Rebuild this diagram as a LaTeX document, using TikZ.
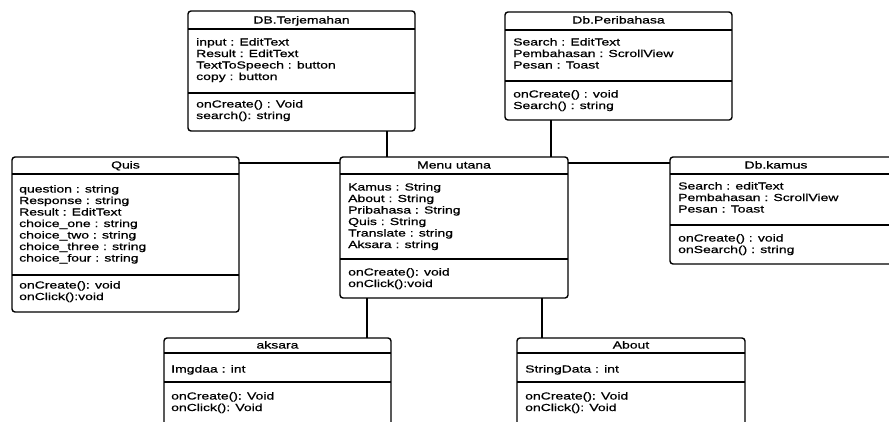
\documentclass[tikz,border=0pt]{standalone}
\usepackage{fontspec}
\setmainfont{Liberation Sans}[FakeStretch=1.37, FakeBold=0.7]
\usetikzlibrary{calc}

% class box outline: name, left, top, width, height
\newcommand\umlclass[5]{%
  \node[classbox, minimum width=#4pt, minimum height=#5pt] (#1) at (#2,#3) {};}
% horizontal compartment divider inside a class box: name, y
\newcommand\compsep[2]{%
  \draw[sepline] (#1.west |- 0,#2) -- (#1.east |- 0,#2);}
% stacked member lines: name prefix, x, first baseline, list of lines
\newcommand\memberlines[4]{%
  \foreach \txt [count=\k] in {#4}
    \node[member] (#1\k) at (#2, {#3+11.5*(\k-1)}) {\txt};}

\begin{document}
\begin{tikzpicture}[x=1pt, y=-1pt,
  classbox/.style={draw=black, line width=1.4pt, rounded corners=3pt,
    fill=white, anchor=north west, inner sep=0pt, outer sep=0pt},
  sepline/.style={draw=black, line width=1.4pt},
  link/.style={draw=black, line width=1.4pt},
  classtitle/.style={font=\fontsize{10.2}{11.5}\selectfont, anchor=base, inner sep=0pt},
  member/.style={font=\fontsize{10.2}{11.5}\selectfont, anchor=base west, inner sep=0pt}]

\useasboundingbox[fill=white] (0,0) rectangle (889,421);
\clip (0,0) rectangle (889,421);

% ---- class boxes ----
\umlclass{terj}{188}{11}{227}{120}
\umlclass{perib}{505}{12}{227}{108}
\umlclass{quis}{12}{157}{227}{155}
\umlclass{menu}{340}{157}{228}{141}
\umlclass{kamus}{670}{157}{227}{107}
\umlclass{aksara}{164}{338}{227}{100}
\umlclass{about}{517}{338}{228}{100}

% ---- associations ----
\draw[link] (terj.south -| 387,0) -- (menu.north -| 387,0);
\draw[link] (perib.south -| 551,0) -- (menu.north -| 551,0);
\draw[link] (quis.east |- 0,163) -- (menu.west |- 0,163);
\draw[link] (menu.east |- 0,163) -- (kamus.west |- 0,163);
\draw[link] (menu.south -| 367,0) -- (aksara.north -| 367,0);
\draw[link] (menu.south -| 542,0) -- (about.north -| 542,0);

% ---- DB.Terjemahan ----
\compsep{terj}{29}
\compsep{terj}{93}
\node[classtitle] (terjT) at (301.5,23.5) {DB.Terjemahan};
\memberlines{terjA}{196}{45.5}{input : EditText, Result : EditText, TextToSpeech : button, copy : button}
\memberlines{terjM}{196}{107.5}{onCreate() : Void, search(): string}

% ---- Db.Peribahasa ----
\compsep{perib}{30}
\compsep{perib}{81}
\node[classtitle] (peribT) at (618.5,23.5) {Db.Peribahasa};
\memberlines{peribA}{513}{45.5}{Search : EditText, Pembahasan : ScrollView, Pesan : Toast}
\memberlines{peribM}{513}{97.5}{onCreate() : void, Search() : string}

% ---- Quis ----
\compsep{quis}{174}
\compsep{quis}{275}
\node[classtitle] (quisT) at (125.5,168.5) {Quis};
\memberlines{quisA}{19}{192.5}{question : string, Response : string, Result : EditText, choice\_one : string, choice\_two : string, choice\_three : string, choice\_four : string}
\memberlines{quisM}{19}{288.5}{onCreate(): void, onClick():void}

% ---- Menu utana ----
\compsep{menu}{174}
\compsep{menu}{259}
\node[classtitle] (menuT) at (454,168.5) {Menu utana};
\memberlines{menuA}{348}{190.5}{Kamus : String, About : String, Pribahasa : String, Quis : String, Translate : string, Aksara : string}
\memberlines{menuM}{348}{275.5}{onCreate(): void, onClick():void}

% ---- Db.kamus ----
\compsep{kamus}{174}
\compsep{kamus}{225}
\node[classtitle] (kamusT) at (776,168.5) {Db.kamus};
\memberlines{kamusA}{678}{189.5}{Search : editText, Pembahasan : ScrollView, Pesan : Toast}
\memberlines{kamusM}{678}{241.5}{onCreate() : void, onSearch() : string}

% ---- aksara ----
\compsep{aksara}{353}
\compsep{aksara}{382}
\node[classtitle] (aksaraT) at (277.5,348.5) {aksara};
\memberlines{aksaraA}{171}{372.5}{Imgdaa : int}
\memberlines{aksaraM}{171}{399.5}{onCreate(): Void, onClick(): Void}

% ---- About ----
\compsep{about}{353}
\compsep{about}{382}
\node[classtitle] (aboutT) at (631,348.5) {About};
\memberlines{aboutA}{525}{372.5}{StringData : int}
\memberlines{aboutM}{525}{399.5}{onCreate(): Void, onClick(): Void}
\end{tikzpicture}
\end{document}
